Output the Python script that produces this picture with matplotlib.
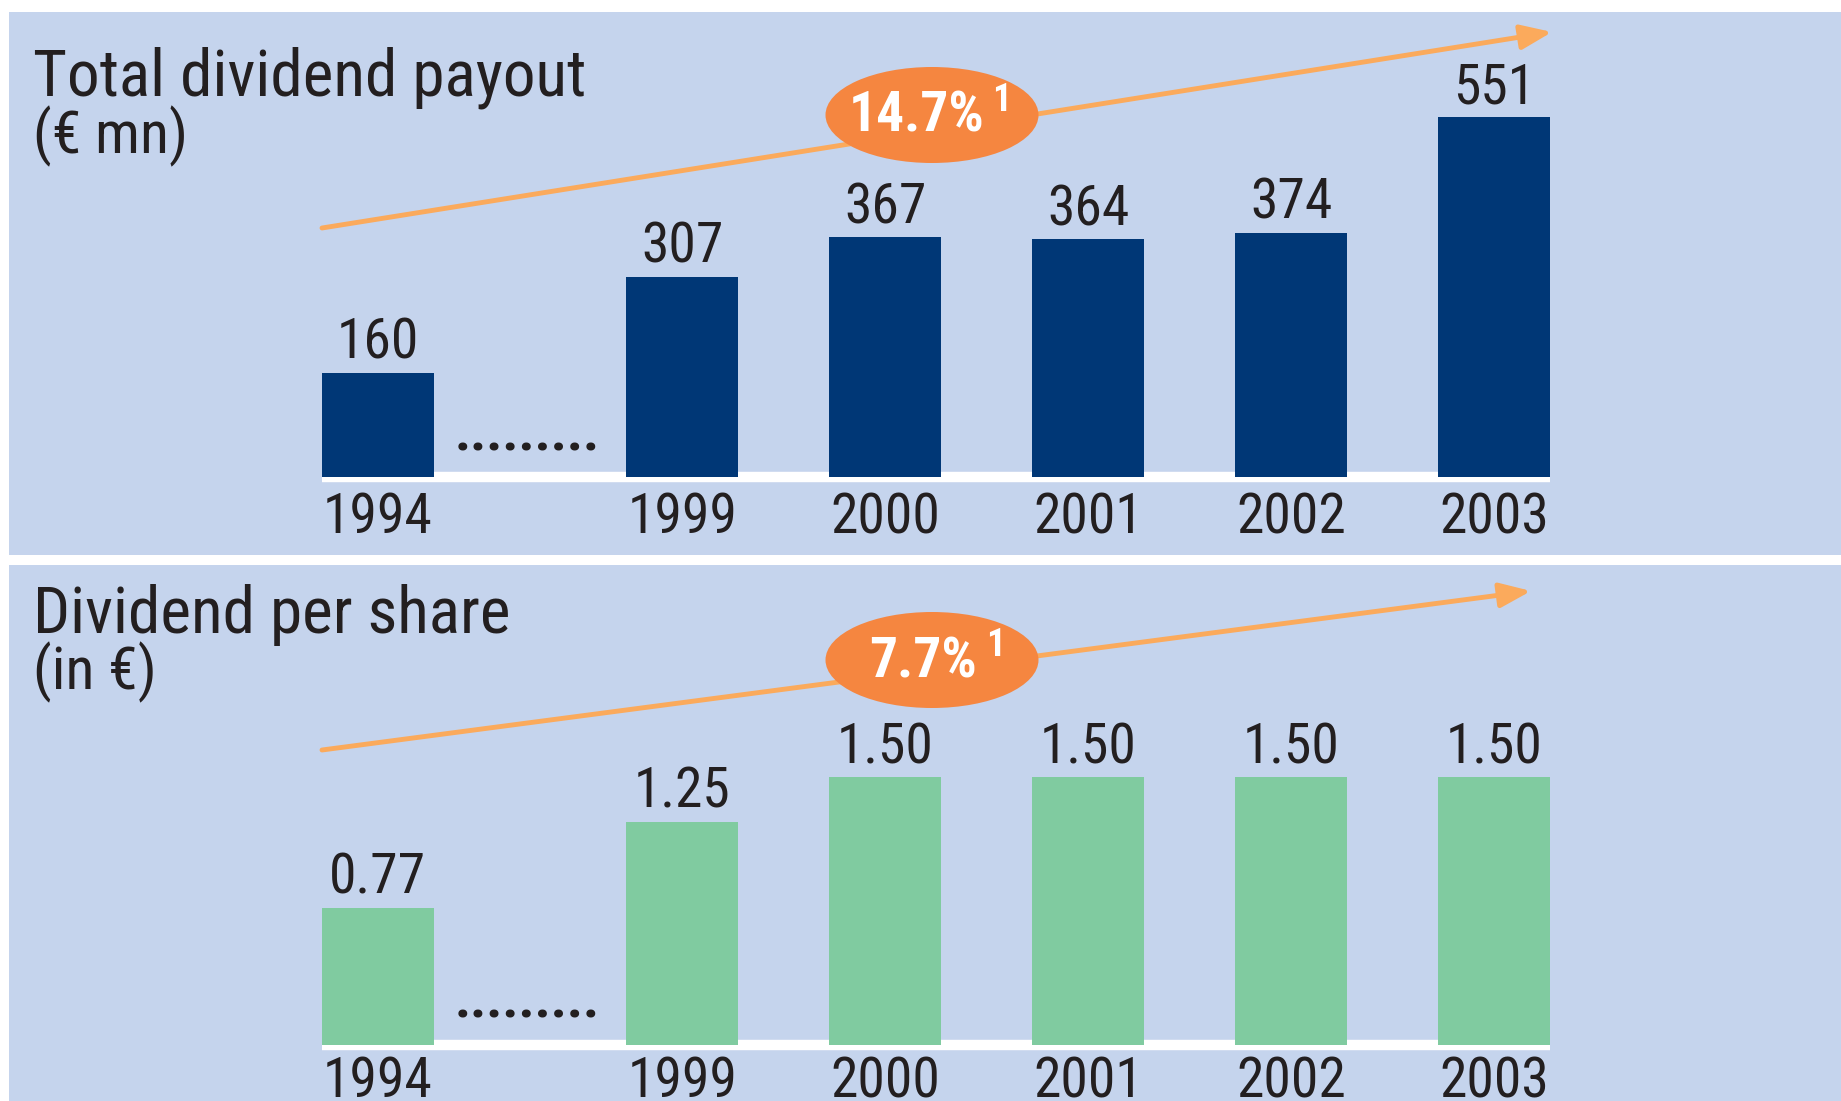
import matplotlib
matplotlib.use('Agg')
import matplotlib.pyplot as plt
from matplotlib import font_manager as fm
from matplotlib.patches import Rectangle, Ellipse, FancyArrowPatch

# ---------------- data ----------------
years = ['1994', '1999', '2000', '2001', '2002', '2003']
positions = [0, 1.5, 2.5, 3.5, 4.5, 5.5]          # gap between 1994 and 1999
payout = [160, 307, 367, 364, 374, 551]           # € mn
payout_labels = ['160', '307', '367', '364', '374', '551']
per_share = [0.77, 1.25, 1.50, 1.50, 1.50, 1.50]  # €
per_share_labels = ['0.77', '1.25', '1.50', '1.50', '1.50', '1.50']
titles = ['Total dividend payout', 'Dividend per share']
units = ['(€ mn)', '(in €)']
cagr = ['14.7%', '7.7%']
footnote = '1'


# ---------------- font: pick a condensed sans if one is installed ----------------
def pick_font():
    names = {}
    for f in fm.fontManager.ttflist:
        names.setdefault(f.name, set()).add(str(f.stretch))
    for n in ['Liberation Sans Narrow', 'Roboto Condensed', 'Noto Sans Condensed',
              'Open Sans Condensed', 'DejaVu Sans Condensed', 'Arial Narrow']:
        if n in names:
            return n, 'normal'
    cond = {'condensed', 'extra-condensed', 'semi-condensed', 'ultra-condensed'}
    for n in ['Roboto', 'Noto Sans', 'Open Sans', 'DejaVu Sans', 'Lato', 'Inter']:
        if n in names and (names[n] & cond):
            return n, 'condensed'
    for n in names:
        if 'Narrow' in n or 'Condensed' in n:
            return n, 'normal'
    return 'Liberation Sans', 'normal'


FAM, STRETCH = pick_font()
plt.rcParams['font.family'] = [FAM, 'DejaVu Sans']
plt.rcParams['font.stretch'] = STRETCH

# ---------------- style ----------------
BG = '#C5D4ED'
BLUE = '#003776'
GREEN = '#80CBA0'
ORANGE = '#F58640'
ARROW = '#FBAA5C'
TXT = '#231F20'

W, H = 1841, 1101
def fx(x):
    return x / W
def fy(y):
    return 1 - y / H

fig = plt.figure(figsize=(W / 100, H / 100), dpi=100, facecolor='white')

# panel backgrounds
for top, bot in [(12, 555), (565, 1101)]:
    fig.patches.append(Rectangle((fx(9), fy(bot)), 1 - fx(9), (bot - top) / H,
                                 transform=fig.transFigure, facecolor=BG,
                                 edgecolor='none', zorder=-1))


def panel(top_px, base_px, ymax, values, labels, color, title, unit,
          title_base, unit_base, arrow_start, arrow_end, ell_y, rate,
          rate_right, rate_base, sup_left, sup_base, year_off):
    ax = fig.add_axes([fx(322), fy(base_px), (1550 - 322) / W, (base_px - top_px) / H])
    ax.set_zorder(1)
    ax.set_xlim(-0.275, 5.775)
    ax.set_ylim(0, ymax)
    ax.axis('off')
    ax.patch.set_alpha(0)
    ax.axhline(0, color='white', lw=7.5, clip_on=False, zorder=1,
               solid_capstyle='butt')
    ax.bar(positions, values, width=0.55, color=color, zorder=2)
    for p, v, lab in zip(positions, values, labels):
        ax.annotate(lab, (p, v), xytext=(0, 14), textcoords='offset pixels',
                    ha='center', va='baseline', fontsize=40, color=TXT,
                    annotation_clip=False)
    for p, yl in zip(positions, years):
        ax.annotate(yl, (p, 0), xytext=(0, -year_off), textcoords='offset pixels',
                    ha='center', va='baseline', fontsize=40, color=TXT,
                    annotation_clip=False)
    ax.annotate('.........', ((positions[0] + positions[1]) / 2, 0),
                xytext=(-3, 27), textcoords='offset pixels', ha='center',
                va='baseline', fontsize=40, fontweight='bold', color=TXT,
                annotation_clip=False)

    # titles
    fig.text(fx(33), fy(title_base), title, fontsize=47, color=TXT, va='baseline')
    fig.text(fx(33), fy(unit_base), unit, fontsize=43, color=TXT, va='baseline')

    # growth arrow
    arr = FancyArrowPatch((fx(arrow_start[0]), fy(arrow_start[1])),
                          (fx(arrow_end[0]), fy(arrow_end[1])),
                          transform=fig.transFigure,
                          arrowstyle='-|>,head_length=19,head_width=7.5',
                          color=ARROW, lw=3.5, shrinkA=0, shrinkB=0,
                          mutation_scale=1, zorder=3)
    fig.patches.append(arr)
    fig.patches.append(Ellipse((fx(932), fy(ell_y)), 213 / W, 96 / H,
                               transform=fig.transFigure, facecolor=ORANGE,
                               edgecolor='none', zorder=4))
    fig.text(fx(rate_right), fy(rate_base), rate, fontsize=40, fontweight='bold',
             color='white', ha='right', va='baseline', zorder=5)
    fig.text(fx(sup_left), fy(sup_base), footnote, fontsize=27, fontweight='bold',
             color='white', ha='left', va='baseline', zorder=5)
    return ax


panel(12, 477, 712, payout, payout_labels, BLUE, titles[0], units[0],
      95, 153, (322, 228), (1552, 32), 115, cagr[0], 985, 132, 992, 111, 56)
panel(565, 1045, 2.69, per_share, per_share_labels, GREEN, titles[1], units[1],
      633, 689, (322, 750), (1531, 591), 660, cagr[1], 977, 677, 986, 656, 52)

fig.savefig('out.png', dpi=100, facecolor='white')
